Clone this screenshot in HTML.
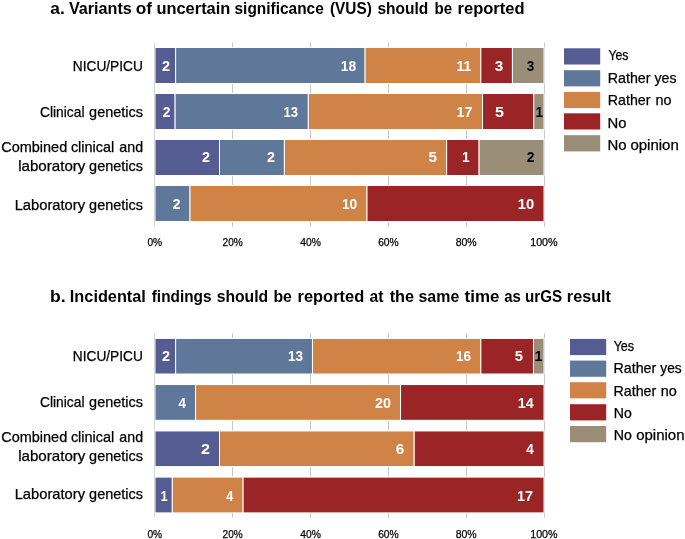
<!DOCTYPE html>
<html><head><meta charset="utf-8"><title>Survey responses chart</title>
<style>
html,body{margin:0;padding:0;background:#fff;}
body{width:685px;height:539px;overflow:hidden;}
svg{display:block;font-family:"Liberation Sans",sans-serif;will-change:transform;}
</style></head>
<body>
<svg width="685" height="539" viewBox="0 0 685 539">
<rect x="0" y="0" width="685" height="539" fill="#fff"/>
<line x1="232.50" y1="42.5" x2="232.50" y2="227.0" stroke="#C8C8C8" stroke-width="1"/>
<line x1="310.50" y1="42.5" x2="310.50" y2="227.0" stroke="#C8C8C8" stroke-width="1"/>
<line x1="388.50" y1="42.5" x2="388.50" y2="227.0" stroke="#C8C8C8" stroke-width="1"/>
<line x1="466.50" y1="42.5" x2="466.50" y2="227.0" stroke="#C8C8C8" stroke-width="1"/>
<line x1="544.50" y1="42.5" x2="544.50" y2="227.0" stroke="#C8C8C8" stroke-width="1"/>
<rect x="155.00" y="47.50" width="20.65" height="36.00" fill="#555C92" stroke="#fff" stroke-width="1"/>
<rect x="175.65" y="47.50" width="189.44" height="36.00" fill="#5F7799" stroke="#fff" stroke-width="1"/>
<rect x="365.09" y="47.50" width="115.77" height="36.00" fill="#D08347" stroke="#fff" stroke-width="1"/>
<rect x="480.85" y="47.50" width="31.57" height="36.00" fill="#9B2526" stroke="#fff" stroke-width="1"/>
<rect x="512.43" y="47.50" width="31.57" height="36.00" fill="#9B8E78" stroke="#fff" stroke-width="1"/>
<rect x="155.00" y="93.50" width="20.09" height="36.00" fill="#555C92" stroke="#fff" stroke-width="1"/>
<rect x="175.09" y="93.50" width="133.22" height="36.00" fill="#5F7799" stroke="#fff" stroke-width="1"/>
<rect x="308.31" y="93.50" width="174.21" height="36.00" fill="#D08347" stroke="#fff" stroke-width="1"/>
<rect x="482.52" y="93.50" width="51.24" height="36.00" fill="#9B2526" stroke="#fff" stroke-width="1"/>
<rect x="533.75" y="93.50" width="10.25" height="36.00" fill="#9B8E78" stroke="#fff" stroke-width="1"/>
<rect x="155.00" y="139.50" width="64.50" height="36.00" fill="#555C92" stroke="#fff" stroke-width="1"/>
<rect x="219.50" y="139.50" width="64.90" height="36.00" fill="#5F7799" stroke="#fff" stroke-width="1"/>
<rect x="284.40" y="139.50" width="162.25" height="36.00" fill="#D08347" stroke="#fff" stroke-width="1"/>
<rect x="446.65" y="139.50" width="32.45" height="36.00" fill="#9B2526" stroke="#fff" stroke-width="1"/>
<rect x="479.10" y="139.50" width="64.90" height="36.00" fill="#9B8E78" stroke="#fff" stroke-width="1"/>
<rect x="155.00" y="185.50" width="35.00" height="36.00" fill="#5F7799" stroke="#fff" stroke-width="1"/>
<rect x="190.00" y="185.50" width="177.00" height="36.00" fill="#D08347" stroke="#fff" stroke-width="1"/>
<rect x="367.00" y="185.50" width="177.00" height="36.00" fill="#9B2526" stroke="#fff" stroke-width="1"/>
<line x1="154.5" y1="42.5" x2="154.5" y2="227.0" stroke="#D6D6D6" stroke-width="1"/>
<rect x="564.0" y="48.30" width="36.2" height="16.2" fill="#555C92"/>
<rect x="564.0" y="70.20" width="36.2" height="16.2" fill="#5F7799"/>
<rect x="564.0" y="91.90" width="36.2" height="16.2" fill="#D08347"/>
<rect x="564.0" y="113.30" width="36.2" height="16.2" fill="#9B2526"/>
<rect x="564.0" y="135.20" width="36.2" height="16.2" fill="#9B8E78"/>
<line x1="232.50" y1="333.2" x2="232.50" y2="517.6" stroke="#C8C8C8" stroke-width="1"/>
<line x1="310.50" y1="333.2" x2="310.50" y2="517.6" stroke="#C8C8C8" stroke-width="1"/>
<line x1="388.50" y1="333.2" x2="388.50" y2="517.6" stroke="#C8C8C8" stroke-width="1"/>
<line x1="466.50" y1="333.2" x2="466.50" y2="517.6" stroke="#C8C8C8" stroke-width="1"/>
<line x1="544.50" y1="333.2" x2="544.50" y2="517.6" stroke="#C8C8C8" stroke-width="1"/>
<rect x="155.00" y="338.40" width="20.65" height="35.60" fill="#555C92" stroke="#fff" stroke-width="1"/>
<rect x="175.65" y="338.40" width="136.82" height="35.60" fill="#5F7799" stroke="#fff" stroke-width="1"/>
<rect x="312.46" y="338.40" width="168.39" height="35.60" fill="#D08347" stroke="#fff" stroke-width="1"/>
<rect x="480.85" y="338.40" width="52.62" height="35.60" fill="#9B2526" stroke="#fff" stroke-width="1"/>
<rect x="533.48" y="338.40" width="10.52" height="35.60" fill="#9B8E78" stroke="#fff" stroke-width="1"/>
<rect x="155.00" y="384.55" width="40.59" height="35.75" fill="#5F7799" stroke="#fff" stroke-width="1"/>
<rect x="195.59" y="384.55" width="204.95" height="35.75" fill="#D08347" stroke="#fff" stroke-width="1"/>
<rect x="400.54" y="384.55" width="143.46" height="35.75" fill="#9B2526" stroke="#fff" stroke-width="1"/>
<rect x="155.00" y="430.95" width="64.50" height="35.65" fill="#555C92" stroke="#fff" stroke-width="1"/>
<rect x="219.50" y="430.95" width="194.70" height="35.65" fill="#D08347" stroke="#fff" stroke-width="1"/>
<rect x="414.20" y="430.95" width="129.80" height="35.65" fill="#9B2526" stroke="#fff" stroke-width="1"/>
<rect x="155.00" y="477.10" width="17.30" height="35.80" fill="#555C92" stroke="#fff" stroke-width="1"/>
<rect x="172.30" y="477.10" width="70.80" height="35.80" fill="#D08347" stroke="#fff" stroke-width="1"/>
<rect x="243.10" y="477.10" width="300.90" height="35.80" fill="#9B2526" stroke="#fff" stroke-width="1"/>
<line x1="154.5" y1="333.2" x2="154.5" y2="517.6" stroke="#D6D6D6" stroke-width="1"/>
<rect x="570.0" y="338.90" width="36.2" height="16.2" fill="#555C92"/>
<rect x="570.0" y="360.60" width="36.2" height="16.2" fill="#5F7799"/>
<rect x="570.0" y="382.20" width="36.2" height="16.2" fill="#D08347"/>
<rect x="570.0" y="404.20" width="36.2" height="16.2" fill="#9B2526"/>
<rect x="570.0" y="426.00" width="36.2" height="16.2" fill="#9B8E78"/>
<text x="50.25" y="14.20" font-size="16.9" font-weight="bold" fill="#000" textLength="14.45" lengthAdjust="spacingAndGlyphs">a.</text>
<text x="68.95" y="14.20" font-size="16.9" font-weight="bold" fill="#000" textLength="62.90" lengthAdjust="spacingAndGlyphs">Variants</text>
<text x="135.80" y="14.20" font-size="16.9" font-weight="bold" fill="#000" textLength="16.30" lengthAdjust="spacingAndGlyphs">of</text>
<text x="156.40" y="14.20" font-size="16.9" font-weight="bold" fill="#000" textLength="73.95" lengthAdjust="spacingAndGlyphs">uncertain</text>
<text x="234.50" y="14.20" font-size="16.9" font-weight="bold" fill="#000" textLength="89.25" lengthAdjust="spacingAndGlyphs">significance</text>
<text x="330.00" y="14.20" font-size="16.9" font-weight="bold" fill="#000" textLength="41.85" lengthAdjust="spacingAndGlyphs">(VUS)</text>
<text x="377.45" y="14.20" font-size="16.9" font-weight="bold" fill="#000" textLength="50.85" lengthAdjust="spacingAndGlyphs">should</text>
<text x="434.45" y="14.20" font-size="16.9" font-weight="bold" fill="#000" textLength="17.60" lengthAdjust="spacingAndGlyphs">be</text>
<text x="457.55" y="14.20" font-size="16.9" font-weight="bold" fill="#000" textLength="67.05" lengthAdjust="spacingAndGlyphs">reported</text>
<text x="72.75" y="70.50" font-size="14.2" stroke="#000" stroke-width="0.25" fill="#000" textLength="70.15" lengthAdjust="spacingAndGlyphs">NICU/PICU</text>
<text x="162.00" y="71.00" font-size="13.8" font-weight="bold" fill="#fff" textLength="8.05" lengthAdjust="spacingAndGlyphs">2</text>
<text x="340.85" y="71.00" font-size="13.8" font-weight="bold" fill="#fff" textLength="15.50" lengthAdjust="spacingAndGlyphs">18</text>
<text x="456.60" y="71.00" font-size="13.8" font-weight="bold" fill="#fff" textLength="14.75" lengthAdjust="spacingAndGlyphs">11</text>
<text x="494.85" y="71.00" font-size="13.8" font-weight="bold" fill="#fff" textLength="8.50" lengthAdjust="spacingAndGlyphs">3</text>
<text x="526.80" y="71.00" font-size="13.8" font-weight="bold" fill="#000" textLength="7.55" lengthAdjust="spacingAndGlyphs">3</text>
<text x="40.00" y="117.40" font-size="14.2" stroke="#000" stroke-width="0.25" fill="#000" textLength="44.45" lengthAdjust="spacingAndGlyphs">Clinical</text>
<text x="89.10" y="117.40" font-size="14.2" stroke="#000" stroke-width="0.25" fill="#000" textLength="53.80" lengthAdjust="spacingAndGlyphs">genetics</text>
<text x="162.65" y="117.00" font-size="13.8" font-weight="bold" fill="#fff" textLength="7.70" lengthAdjust="spacingAndGlyphs">2</text>
<text x="283.45" y="117.00" font-size="13.8" font-weight="bold" fill="#fff" textLength="14.60" lengthAdjust="spacingAndGlyphs">13</text>
<text x="456.60" y="117.00" font-size="13.8" font-weight="bold" fill="#fff" textLength="15.70" lengthAdjust="spacingAndGlyphs">17</text>
<text x="495.00" y="117.00" font-size="13.8" font-weight="bold" fill="#fff" textLength="8.95" lengthAdjust="spacingAndGlyphs">5</text>
<text x="535.45" y="117.00" font-size="13.8" font-weight="bold" fill="#000" textLength="7.60" lengthAdjust="spacingAndGlyphs">1</text>
<text x="1.20" y="151.60" font-size="14.2" stroke="#000" stroke-width="0.25" fill="#000" textLength="66.00" lengthAdjust="spacingAndGlyphs">Combined</text>
<text x="70.90" y="151.60" font-size="14.2" stroke="#000" stroke-width="0.25" fill="#000" textLength="43.40" lengthAdjust="spacingAndGlyphs">clinical</text>
<text x="119.30" y="151.60" font-size="14.2" stroke="#000" stroke-width="0.25" fill="#000" textLength="23.75" lengthAdjust="spacingAndGlyphs">and</text>
<text x="18.15" y="171.00" font-size="14.2" stroke="#000" stroke-width="0.25" fill="#000" textLength="67.25" lengthAdjust="spacingAndGlyphs">laboratory</text>
<text x="89.10" y="171.00" font-size="14.2" stroke="#000" stroke-width="0.25" fill="#000" textLength="53.80" lengthAdjust="spacingAndGlyphs">genetics</text>
<text x="201.90" y="162.40" font-size="13.8" font-weight="bold" fill="#fff" textLength="8.05" lengthAdjust="spacingAndGlyphs">2</text>
<text x="267.05" y="162.40" font-size="13.8" font-weight="bold" fill="#fff" textLength="8.00" lengthAdjust="spacingAndGlyphs">2</text>
<text x="428.55" y="162.40" font-size="13.8" font-weight="bold" fill="#fff" textLength="8.50" lengthAdjust="spacingAndGlyphs">5</text>
<text x="462.00" y="162.40" font-size="13.8" font-weight="bold" fill="#fff" textLength="7.65" lengthAdjust="spacingAndGlyphs">1</text>
<text x="526.80" y="162.40" font-size="13.8" font-weight="bold" fill="#000" textLength="7.70" lengthAdjust="spacingAndGlyphs">2</text>
<text x="14.65" y="209.50" font-size="14.2" stroke="#000" stroke-width="0.25" fill="#000" textLength="70.45" lengthAdjust="spacingAndGlyphs">Laboratory</text>
<text x="89.10" y="209.50" font-size="14.2" stroke="#000" stroke-width="0.25" fill="#000" textLength="53.80" lengthAdjust="spacingAndGlyphs">genetics</text>
<text x="172.60" y="208.80" font-size="13.8" font-weight="bold" fill="#fff" textLength="8.05" lengthAdjust="spacingAndGlyphs">2</text>
<text x="341.90" y="208.80" font-size="13.8" font-weight="bold" fill="#fff" textLength="15.25" lengthAdjust="spacingAndGlyphs">10</text>
<text x="517.70" y="208.80" font-size="13.8" font-weight="bold" fill="#fff" textLength="16.45" lengthAdjust="spacingAndGlyphs">10</text>
<text x="147.40" y="246.20" font-size="11.5" stroke="#000" stroke-width="0.25" fill="#000" textLength="14.75" lengthAdjust="spacingAndGlyphs">0%</text>
<text x="222.55" y="246.20" font-size="11.5" stroke="#000" stroke-width="0.25" fill="#000" textLength="20.15" lengthAdjust="spacingAndGlyphs">20%</text>
<text x="300.30" y="246.20" font-size="11.5" stroke="#000" stroke-width="0.25" fill="#000" textLength="20.70" lengthAdjust="spacingAndGlyphs">40%</text>
<text x="378.15" y="246.20" font-size="11.5" stroke="#000" stroke-width="0.25" fill="#000" textLength="20.60" lengthAdjust="spacingAndGlyphs">60%</text>
<text x="455.70" y="246.20" font-size="11.5" stroke="#000" stroke-width="0.25" fill="#000" textLength="21.00" lengthAdjust="spacingAndGlyphs">80%</text>
<text x="530.20" y="246.20" font-size="11.5" stroke="#000" stroke-width="0.25" fill="#000" textLength="27.40" lengthAdjust="spacingAndGlyphs">100%</text>
<text x="608.40" y="60.00" font-size="14.2" stroke="#000" stroke-width="0.25" fill="#000" textLength="20.00" lengthAdjust="spacingAndGlyphs">Yes</text>
<text x="607.75" y="82.60" font-size="14.2" stroke="#000" stroke-width="0.25" fill="#000" textLength="42.75" lengthAdjust="spacingAndGlyphs">Rather</text>
<text x="654.55" y="82.60" font-size="14.2" stroke="#000" stroke-width="0.25" fill="#000" textLength="21.90" lengthAdjust="spacingAndGlyphs">yes</text>
<text x="607.75" y="104.80" font-size="14.2" stroke="#000" stroke-width="0.25" fill="#000" textLength="42.75" lengthAdjust="spacingAndGlyphs">Rather</text>
<text x="655.55" y="104.80" font-size="14.2" stroke="#000" stroke-width="0.25" fill="#000" textLength="16.05" lengthAdjust="spacingAndGlyphs">no</text>
<text x="607.55" y="127.60" font-size="14.2" stroke="#000" stroke-width="0.25" fill="#000" textLength="19.00" lengthAdjust="spacingAndGlyphs">No</text>
<text x="607.55" y="149.80" font-size="14.2" stroke="#000" stroke-width="0.25" fill="#000" textLength="19.10" lengthAdjust="spacingAndGlyphs">No</text>
<text x="630.40" y="149.80" font-size="14.2" stroke="#000" stroke-width="0.25" fill="#000" textLength="48.40" lengthAdjust="spacingAndGlyphs">opinion</text>
<text x="50.10" y="301.90" font-size="16.9" font-weight="bold" fill="#000" textLength="15.65" lengthAdjust="spacingAndGlyphs">b.</text>
<text x="69.85" y="301.90" font-size="16.9" font-weight="bold" fill="#000" textLength="76.05" lengthAdjust="spacingAndGlyphs">Incidental</text>
<text x="151.75" y="301.90" font-size="16.9" font-weight="bold" fill="#000" textLength="59.75" lengthAdjust="spacingAndGlyphs">findings</text>
<text x="216.65" y="301.90" font-size="16.9" font-weight="bold" fill="#000" textLength="51.55" lengthAdjust="spacingAndGlyphs">should</text>
<text x="273.40" y="301.90" font-size="16.9" font-weight="bold" fill="#000" textLength="18.45" lengthAdjust="spacingAndGlyphs">be</text>
<text x="297.55" y="301.90" font-size="16.9" font-weight="bold" fill="#000" textLength="66.65" lengthAdjust="spacingAndGlyphs">reported</text>
<text x="369.60" y="301.90" font-size="16.9" font-weight="bold" fill="#000" textLength="13.95" lengthAdjust="spacingAndGlyphs">at</text>
<text x="389.65" y="301.90" font-size="16.9" font-weight="bold" fill="#000" textLength="24.45" lengthAdjust="spacingAndGlyphs">the</text>
<text x="418.50" y="301.90" font-size="16.9" font-weight="bold" fill="#000" textLength="40.75" lengthAdjust="spacingAndGlyphs">same</text>
<text x="464.60" y="301.90" font-size="16.9" font-weight="bold" fill="#000" textLength="34.85" lengthAdjust="spacingAndGlyphs">time</text>
<text x="504.35" y="301.90" font-size="16.9" font-weight="bold" fill="#000" textLength="16.55" lengthAdjust="spacingAndGlyphs">as</text>
<text x="525.00" y="301.90" font-size="16.9" font-weight="bold" fill="#000" textLength="37.05" lengthAdjust="spacingAndGlyphs">urGS</text>
<text x="566.85" y="301.90" font-size="16.9" font-weight="bold" fill="#000" textLength="44.05" lengthAdjust="spacingAndGlyphs">result</text>
<text x="72.75" y="360.60" font-size="14.2" stroke="#000" stroke-width="0.25" fill="#000" textLength="70.15" lengthAdjust="spacingAndGlyphs">NICU/PICU</text>
<text x="161.95" y="361.10" font-size="13.8" font-weight="bold" fill="#fff" textLength="8.05" lengthAdjust="spacingAndGlyphs">2</text>
<text x="287.90" y="361.10" font-size="13.8" font-weight="bold" fill="#fff" textLength="15.10" lengthAdjust="spacingAndGlyphs">13</text>
<text x="455.90" y="361.10" font-size="13.8" font-weight="bold" fill="#fff" textLength="15.05" lengthAdjust="spacingAndGlyphs">16</text>
<text x="514.70" y="361.10" font-size="13.8" font-weight="bold" fill="#fff" textLength="8.25" lengthAdjust="spacingAndGlyphs">5</text>
<text x="534.60" y="361.10" font-size="13.8" font-weight="bold" fill="#000" textLength="8.05" lengthAdjust="spacingAndGlyphs">1</text>
<text x="40.00" y="407.20" font-size="14.2" stroke="#000" stroke-width="0.25" fill="#000" textLength="44.45" lengthAdjust="spacingAndGlyphs">Clinical</text>
<text x="89.10" y="407.20" font-size="14.2" stroke="#000" stroke-width="0.25" fill="#000" textLength="53.80" lengthAdjust="spacingAndGlyphs">genetics</text>
<text x="178.40" y="407.70" font-size="13.8" font-weight="bold" fill="#fff" textLength="7.50" lengthAdjust="spacingAndGlyphs">4</text>
<text x="375.05" y="407.70" font-size="13.8" font-weight="bold" fill="#fff" textLength="15.95" lengthAdjust="spacingAndGlyphs">20</text>
<text x="517.70" y="407.70" font-size="13.8" font-weight="bold" fill="#fff" textLength="15.95" lengthAdjust="spacingAndGlyphs">14</text>
<text x="1.20" y="442.00" font-size="14.2" stroke="#000" stroke-width="0.25" fill="#000" textLength="66.00" lengthAdjust="spacingAndGlyphs">Combined</text>
<text x="70.90" y="442.00" font-size="14.2" stroke="#000" stroke-width="0.25" fill="#000" textLength="43.40" lengthAdjust="spacingAndGlyphs">clinical</text>
<text x="119.30" y="442.00" font-size="14.2" stroke="#000" stroke-width="0.25" fill="#000" textLength="23.75" lengthAdjust="spacingAndGlyphs">and</text>
<text x="18.15" y="460.50" font-size="14.2" stroke="#000" stroke-width="0.25" fill="#000" textLength="67.25" lengthAdjust="spacingAndGlyphs">laboratory</text>
<text x="89.10" y="460.50" font-size="14.2" stroke="#000" stroke-width="0.25" fill="#000" textLength="53.80" lengthAdjust="spacingAndGlyphs">genetics</text>
<text x="201.00" y="454.10" font-size="13.8" font-weight="bold" fill="#fff" textLength="9.00" lengthAdjust="spacingAndGlyphs">2</text>
<text x="395.65" y="454.10" font-size="13.8" font-weight="bold" fill="#fff" textLength="8.50" lengthAdjust="spacingAndGlyphs">6</text>
<text x="526.15" y="454.10" font-size="13.8" font-weight="bold" fill="#fff" textLength="7.50" lengthAdjust="spacingAndGlyphs">4</text>
<text x="14.65" y="498.90" font-size="14.2" stroke="#000" stroke-width="0.25" fill="#000" textLength="70.45" lengthAdjust="spacingAndGlyphs">Laboratory</text>
<text x="89.10" y="498.90" font-size="14.2" stroke="#000" stroke-width="0.25" fill="#000" textLength="53.80" lengthAdjust="spacingAndGlyphs">genetics</text>
<text x="160.55" y="500.60" font-size="13.8" font-weight="bold" fill="#fff" textLength="7.20" lengthAdjust="spacingAndGlyphs">1</text>
<text x="226.25" y="500.60" font-size="13.8" font-weight="bold" fill="#fff" textLength="7.05" lengthAdjust="spacingAndGlyphs">4</text>
<text x="517.10" y="500.60" font-size="13.8" font-weight="bold" fill="#fff" textLength="16.00" lengthAdjust="spacingAndGlyphs">17</text>
<text x="147.40" y="537.80" font-size="11.5" stroke="#000" stroke-width="0.25" fill="#000" textLength="14.75" lengthAdjust="spacingAndGlyphs">0%</text>
<text x="222.55" y="537.80" font-size="11.5" stroke="#000" stroke-width="0.25" fill="#000" textLength="20.15" lengthAdjust="spacingAndGlyphs">20%</text>
<text x="300.30" y="537.80" font-size="11.5" stroke="#000" stroke-width="0.25" fill="#000" textLength="20.70" lengthAdjust="spacingAndGlyphs">40%</text>
<text x="378.15" y="537.80" font-size="11.5" stroke="#000" stroke-width="0.25" fill="#000" textLength="20.60" lengthAdjust="spacingAndGlyphs">60%</text>
<text x="455.70" y="537.80" font-size="11.5" stroke="#000" stroke-width="0.25" fill="#000" textLength="21.00" lengthAdjust="spacingAndGlyphs">80%</text>
<text x="530.20" y="537.80" font-size="11.5" stroke="#000" stroke-width="0.25" fill="#000" textLength="27.40" lengthAdjust="spacingAndGlyphs">100%</text>
<text x="613.65" y="350.60" font-size="14.2" stroke="#000" stroke-width="0.25" fill="#000" textLength="20.50" lengthAdjust="spacingAndGlyphs">Yes</text>
<text x="613.50" y="373.10" font-size="14.2" stroke="#000" stroke-width="0.25" fill="#000" textLength="42.75" lengthAdjust="spacingAndGlyphs">Rather</text>
<text x="660.30" y="373.10" font-size="14.2" stroke="#000" stroke-width="0.25" fill="#000" textLength="21.40" lengthAdjust="spacingAndGlyphs">yes</text>
<text x="613.50" y="395.70" font-size="14.2" stroke="#000" stroke-width="0.25" fill="#000" textLength="42.75" lengthAdjust="spacingAndGlyphs">Rather</text>
<text x="660.80" y="395.70" font-size="14.2" stroke="#000" stroke-width="0.25" fill="#000" textLength="16.05" lengthAdjust="spacingAndGlyphs">no</text>
<text x="613.80" y="417.80" font-size="14.2" stroke="#000" stroke-width="0.25" fill="#000" textLength="18.00" lengthAdjust="spacingAndGlyphs">No</text>
<text x="613.80" y="440.00" font-size="14.2" stroke="#000" stroke-width="0.25" fill="#000" textLength="18.10" lengthAdjust="spacingAndGlyphs">No</text>
<text x="636.15" y="440.00" font-size="14.2" stroke="#000" stroke-width="0.25" fill="#000" textLength="48.40" lengthAdjust="spacingAndGlyphs">opinion</text>
</svg>
</body></html>
